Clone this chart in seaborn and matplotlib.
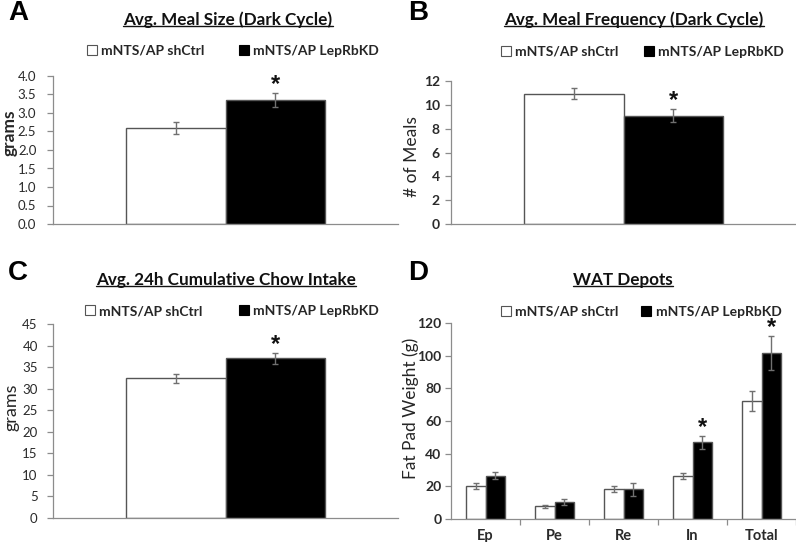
import numpy as np
import pandas as pd
import matplotlib
matplotlib.use("Agg")
import matplotlib.pyplot as plt
import seaborn as sns
from matplotlib.patches import Patch
from matplotlib.lines import Line2D

# ---------------- data ----------------
groups = ["mNTS/AP shCtrl", "mNTS/AP LepRbKD"]

meal_size = [2.60, 3.35]
meal_size_err = [0.17, 0.20]
meal_size_sig = [False, True]

meal_freq = [10.95, 9.10]
meal_freq_err = [0.46, 0.55]
meal_freq_sig = [False, True]

chow_intake = [32.4, 37.0]
chow_intake_err = [1.10, 1.28]
chow_intake_sig = [False, True]

depots = ["Ep", "Pe", "Re", "In", "Total"]
wat_ctrl = [20.3, 7.7, 18.5, 26.2, 72.1]
wat_ctrl_err = [2.0, 1.1, 1.9, 2.0, 6.1]
wat_kd = [26.4, 10.6, 18.2, 47.0, 101.5]
wat_kd_err = [2.2, 1.8, 3.9, 3.9, 10.5]
wat_kd_sig = [False, False, False, True, True]

# ---------------- style ----------------
sns.set_theme(style="white")
plt.rcParams["font.family"] = ["Lato", "DejaVu Sans"]

W, H = 796, 542
fig = plt.figure(figsize=(W / 100, H / 100), dpi=100)
fig.patch.set_facecolor("white")


def fx(x):
    return x / W


def fy(y):
    return 1 - y / H


def px_axes(left, top, right, bottom):
    return fig.add_axes([fx(left), fy(bottom), (right - left) / W, (bottom - top) / H])


SPINE = "#8c8c8c"


def draw_panel(ax, cats, ctrl, ctrl_err, kd, kd_err, kd_sig, width, ylim, yticks,
               tickfmt, tick_weight, tick_size, tick_pad):
    n = len(cats)
    df = pd.DataFrame({
        "cat": list(cats) * 2,
        "group": [groups[0]] * n + [groups[1]] * n,
        "val": list(ctrl) + list(kd),
    })
    sns.barplot(data=df, x="cat", y="val", hue="group", hue_order=groups,
                palette=["white", "black"], saturation=1, width=width,
                errorbar=None, edgecolor="#555555", linewidth=1.0,
                legend=False, ax=ax, zorder=2)
    for cont, vals, errs in zip(ax.containers, [ctrl, kd], [ctrl_err, kd_err]):
        xs = [p.get_x() + p.get_width() / 2 for p in cont]
        ax.errorbar(xs, vals, yerr=errs, fmt="none", ecolor="#707070",
                    elinewidth=1.0, capsize=2.5, capthick=1.0, zorder=5)
    kd_xs = [p.get_x() + p.get_width() / 2 for p in ax.containers[1]]
    for x, v, e, s in zip(kd_xs, kd, kd_err, kd_sig):
        if s:
            ax.annotate("*", xy=(x, v + e), xytext=(0, -3), textcoords="offset pixels",
                        ha="center", va="bottom", fontsize=17, fontweight="bold",
                        family="Liberation Sans", color="#111111",
                        annotation_clip=False)
    ax.set_xlim(-0.5, n - 0.5)
    ax.set_ylim(*ylim)
    ax.set_yticks(yticks)
    ax.set_yticklabels([tickfmt.format(t) for t in yticks], fontsize=tick_size,
                       fontweight=tick_weight, color="#2a2a2a")
    ax.set_xlabel("")
    for side in ["top", "right"]:
        ax.spines[side].set_visible(False)
    for side in ["left", "bottom"]:
        ax.spines[side].set_color(SPINE)
        ax.spines[side].set_linewidth(0.9)
    ax.tick_params(axis="y", which="major", direction="out", length=4, width=0.9,
                   color=SPINE, pad=tick_pad, left=True)
    ax.set_facecolor("white")
    ax.grid(False)


def add_legend(ax, x_px, y_px, colspace):
    handles = [Patch(facecolor="white", edgecolor="#555555", linewidth=0.8),
               Patch(facecolor="black", edgecolor="black", linewidth=0.8)]
    ax.legend(handles, groups, loc="center left", bbox_to_anchor=(fx(x_px), fy(y_px)),
              bbox_transform=fig.transFigure, ncol=2, frameon=False, borderpad=0,
              borderaxespad=0, handlelength=0.72, handleheight=0.72,
              handletextpad=0.3, columnspacing=colspace,
              prop={"family": "Lato", "weight": "bold", "size": 10})


# ---------------- Panel A ----------------
axA = px_axes(53, 76, 398, 224)
draw_panel(axA, [""], [meal_size[0]], [meal_size_err[0]], [meal_size[1]],
           [meal_size_err[1]], [meal_size_sig[1]], 0.574, (0, 4.0),
           np.arange(0, 4.01, 0.5), "{:.1f}", "normal", 9.5, 8)
axA.set_xticks([])
axA.set_ylabel("grams", fontsize=12.5, fontweight="bold", va="center")
axA.yaxis.set_label_coords(fx(10), fy(133), transform=fig.transFigure)
add_legend(axA, 87, 51, 2.5)

# ---------------- Panel B ----------------
axB = px_axes(451, 81, 796, 224)
draw_panel(axB, [""], [meal_freq[0]], [meal_freq_err[0]], [meal_freq[1]],
           [meal_freq_err[1]], [meal_freq_sig[1]], 0.574, (0, 12),
           np.arange(0, 12.1, 2), "{:.0f}", "bold", 10, 4)
axB.set_xticks([])
axB.set_ylabel("# of Meals", fontsize=12.5, fontweight="normal", va="center")
axB.yaxis.set_label_coords(fx(412), fy(157), transform=fig.transFigure)
add_legend(axB, 501, 52, 1.8)

# ---------------- Panel C ----------------
axC = px_axes(53, 324, 398, 518)
draw_panel(axC, [""], [chow_intake[0]], [chow_intake_err[0]], [chow_intake[1]],
           [chow_intake_err[1]], [chow_intake_sig[1]], 0.574, (0, 45),
           np.arange(0, 45.1, 5), "{:.0f}", "normal", 9.5, 7)
axC.set_xticks([])
axC.set_ylabel("grams", fontsize=13, fontweight="normal", va="center")
axC.yaxis.set_label_coords(fx(12), fy(407), transform=fig.transFigure)
add_legend(axC, 85, 311, 2.6)

# ---------------- Panel D ----------------
axD = px_axes(451, 323, 796, 519)
draw_panel(axD, depots, wat_ctrl, wat_ctrl_err, wat_kd, wat_kd_err, wat_kd_sig,
           0.56, (0, 120), np.arange(0, 121, 20), "{:.0f}", "bold", 10, 3)
axD.set_xticks(range(len(depots)))
axD.set_xticklabels(depots, fontsize=10.5, fontweight="bold", color="#2a2a2a")
axD.set_xticks(np.arange(0.5, len(depots), 1.0), minor=True)
axD.tick_params(axis="x", which="major", length=0, pad=7)
axD.tick_params(axis="x", which="minor", direction="out", length=4, width=0.9,
                color=SPINE, bottom=True)
axD.set_ylabel("Fat Pad Weight (g)", fontsize=12.5, fontweight="normal", va="center")
axD.yaxis.set_label_coords(fx(411), fy(408), transform=fig.transFigure)
add_legend(axD, 501, 312, 1.65)

# ---------------- titles & letters ----------------
titles = [("Avg. Meal Size (Dark Cycle)", 228, 20),
          ("Avg. Meal Frequency (Dark Cycle)", 634, 20),
          ("Avg. 24h Cumulative Chow Intake", 226, 280),
          ("WAT Depots", 623, 280)]
title_texts = []
for t, x, y in titles:
    title_texts.append(fig.text(fx(x), fy(y), t, ha="center", va="center",
                                fontsize=12.3, fontweight="bold", color="#111111"))

for letter, x, y in [("A", 8, 13), ("B", 408, 13), ("C", 8, 273), ("D", 408, 273)]:
    fig.text(fx(x), fy(y), letter, ha="left", va="center", fontsize=20,
             fontweight="bold", family="Liberation Sans", color="black")

fig.canvas.draw()
renderer = fig.canvas.get_renderer()
for txt in title_texts:
    bb = txt.get_window_extent(renderer)
    yline = bb.y0 + 2
    fig.add_artist(Line2D([bb.x0 / W, bb.x1 / W], [yline / H, yline / H],
                          transform=fig.transFigure, color="#111111", linewidth=1.0))

fig.savefig("out.png", dpi=100, facecolor="white")
